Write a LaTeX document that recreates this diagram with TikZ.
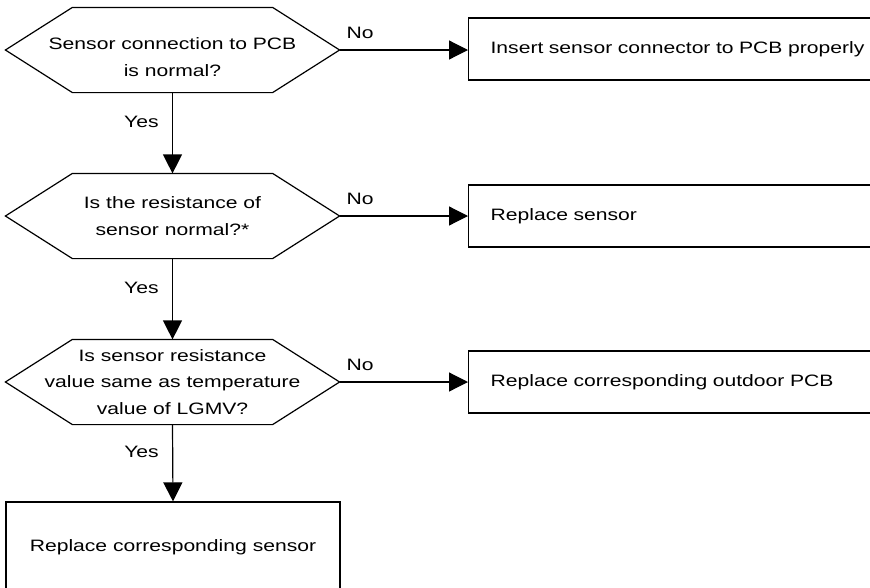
\documentclass[tikz,border=0pt]{standalone}
\usepackage{fontspec}
\setmainfont{Liberation Sans}[FakeStretch=1.28]
\usetikzlibrary{arrows.meta,positioning}

\begin{document}
\begin{tikzpicture}[x=1pt,y=1pt,
  font=\fontsize{16.5}{26.7}\selectfont,line width=1.2pt,
  >={Triangle[length=19pt,width=19pt]},
  check/.style={minimum width=333pt,minimum height=84pt,inner sep=0pt,
                align=center,
                append after command={\pgfextra{\draw
                  ([xshift=67pt]\tikzlastnode.north west)
                  -- ([xshift=-67pt]\tikzlastnode.north east) -- (\tikzlastnode.east)
                  -- ([xshift=-67pt]\tikzlastnode.south east)
                  -- ([xshift=67pt]\tikzlastnode.south west) -- (\tikzlastnode.west)
                  -- cycle;}}},
  act/.style={draw,anchor=west,minimum height=62pt,text width=376pt,
              inner xsep=22pt,align=left},
  no/.style={pos=0,anchor=base west,xshift=3pt,yshift=12pt},
  yes/.style={pos=0.43,anchor=base east,xshift=-10pt},
]
\clip (0,0) rectangle (870,-587);
% ---- checks on the left -------------------------------------------------
\node[check] (C1) at (172.5,-50)  {\rule{0pt}{26pt}Sensor connection to PCB\\is normal?};
\node[check] (C2) at (172.5,-216) {Is the resistance of\\sensor normal?*};
\node[check] (C3) at (172.5,-382) {Is sensor resistance\\value same as temperature\\value of LGMV?};
\node[draw,minimum width=334pt,minimum height=90pt] (R4) at (173,-547)
  {Replace corresponding sensor};

% ---- actions on the right -----------------------------------------------
\node[act] (R1) at (468,-49)  {Insert sensor connector to PCB properly};
\node[act] (R2) at (468,-216) {Replace sensor};
\node[act] (R3) at (468,-382) {Replace corresponding outdoor PCB};

% connectors
\draw[->] (C1.east) -- node[no]{No} (R1.west |- C1.east);
\draw[->] (C2.east) -- node[no]{No} (R2.west |- C2.east);
\draw[->] (C3.east) -- node[no]{No} (R3.west |- C3.east);
\draw[->] (C1.south) -- node[yes]{Yes} (C2.north);
\draw[->] (C2.south) -- node[yes]{Yes} (C3.north);
\draw[->] (C3.south) -- node[yes]{Yes} (R4.north);
\end{tikzpicture}
\end{document}
